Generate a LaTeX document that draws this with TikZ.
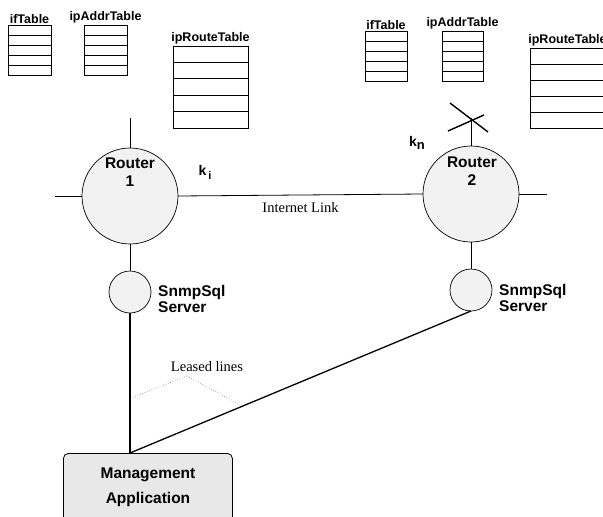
\documentclass[tikz,border=0pt]{standalone}
\usepackage{fontspec}
\setmainfont{Liberation Serif}
\newfontfamily\hvfont{Liberation Sans}
\usetikzlibrary{calc}

% A MIB table: name, left x, top y, width, height, title
\newcommand\mibtable[6]{%
  \node[tbl, minimum width=#4pt, minimum height=#5pt, anchor=north west] (#1) at (#2,#3) {};
  \foreach \r in {1,2,3,4}
    \draw[rowline] ($(#1.north west)!\r/5!(#1.south west)$) -- ($(#1.north east)!\r/5!(#1.south east)$);
  \node[tbllabel, anchor=south] (#1-title) at (#1.north) {#6};
}

\begin{document}
\begin{tikzpicture}[x=1pt, y=-1pt,
  tbl/.style={draw, line width=0.9pt, inner sep=0pt, outer sep=0pt},
  rowline/.style={line width=0.8pt},
  tbllabel/.style={font=\hvfont\bfseries\fontsize{12.5}{14}\selectfont, inner sep=1.5pt},
  router/.style={circle, draw, line width=0.7pt, fill=black!5, minimum size=96pt, inner sep=0pt, outer sep=0pt},
  server/.style={circle, draw, line width=0.7pt, fill=black!5, minimum size=42pt, inner sep=0pt, outer sep=0pt},
  boldlbl/.style={font=\hvfont\bfseries\fontsize{15.5}{18.5}\selectfont, align=center, inner sep=0pt},
  srvlbl/.style={font=\hvfont\bfseries\fontsize{15.5}{15.5}\selectfont, align=left, inner sep=0pt, anchor=west},
  klbl/.style={font=\hvfont\bfseries\fontsize{14}{16}\selectfont, inner sep=0pt},
  seriflbl/.style={font=\fontsize{14.5}{16}\selectfont, inner sep=0pt},
  tick/.style={line width=0.8pt},
  leased/.style={line width=1.3pt},
  pointer/.style={line width=0.5pt, dotted, black!70},
  appbox/.style={draw, line width=0.8pt, rounded corners=5pt, fill=black!9, inner sep=0pt,
                 minimum width=169pt, minimum height=80pt, anchor=north west}
]
\clip (0,0) rectangle (603,517);

% tables of router 1
\mibtable{ift1}{8}{25}{43}{50}{ifTable}
\mibtable{ipa1}{84}{25}{43}{50}{ipAddrTable}
\mibtable{ipr1}{173}{46}{75}{82}{ipRouteTable}

% tables of router 2
\mibtable{ift2}{365}{31}{42}{50}{ifTable}
\mibtable{ipa2}{442}{31}{41}{50}{ipAddrTable}
\mibtable{ipr2}{530}{48}{75}{80}{ipRouteTable}

% routers
\node[router] (r1) at (130,196) {};
\node[boldlbl] (r1-lbl) at (130,172) {Router\\1};
\node[router] (r2) at (471,194) {};
\node[boldlbl] (r2-lbl) at (472,171) {Router\\2};

% stub interfaces
\coordinate (r1-up) at (130,118);
\coordinate (r1-left) at (55,196);
\coordinate (r2-up) at (471,118);
\coordinate (r2-right) at (547,194);
\draw[tick] (r1-up) -- (r1.north);
\draw[tick] (r1-left) -- (r1.west);
\draw[tick] (r2-up) -- (r2.north);
\draw[tick] (r2.east) -- (r2-right);

% failed interface marker
\coordinate (xa) at (450,103);
\coordinate (xb) at (488,132);
\coordinate (xc) at (448,131);
\coordinate (xd) at (484,115);
\draw[line width=1.4pt] (xa) -- (xb);
\draw[line width=1.4pt] (xc) -- (xd);

\node[klbl] (ki) at (205,172) {k\raisebox{-4pt}{\fontsize{11}{12}\selectfont\,i}};
\node[klbl] (kn) at (417,143) {k\raisebox{-3pt}{\fontsize{13}{14}\selectfont n}};

% internet link
\draw[tick] (r1.east) -- (r2.west) node[seriflbl, midway, below=7pt] (inet) {Internet Link};

% SnmpSql servers
\node[server] (s1) at (130,292) {};
\node[server] (s2) at (471,290) {};
\draw[tick] (r1.south) -- (s1.north);
\draw[tick] (r2.south) -- (s2.north);
\node[srvlbl] (s1-lbl) at (158,299) {SnmpSql\\Server};
\node[srvlbl] (s2-lbl) at (499,298) {SnmpSql\\Server};

% management application
\node[appbox] (mgmt) at (63,453) {};
\node[boldlbl, text depth=0pt, font=\hvfont\bfseries\fontsize{15.5}{25}\selectfont] (mgmt-lbl) at (148,486) {Management\\Application};
\coordinate (feed) at (mgmt.north west -| s1.south);

% leased lines
\draw[leased] (s1.south) -- (feed);
\draw[leased] (s2.south) -- (feed);

\node[seriflbl] (ll) at (207,367) {Leased lines};
\coordinate (ll-apex) at (187,376);
\draw[pointer] (ll-apex) -- ($(s1.south)!0.61!(feed)$);
\draw[pointer] (ll-apex) -- ($(feed)!0.33!(s2.south)$);
\end{tikzpicture}
\end{document}
